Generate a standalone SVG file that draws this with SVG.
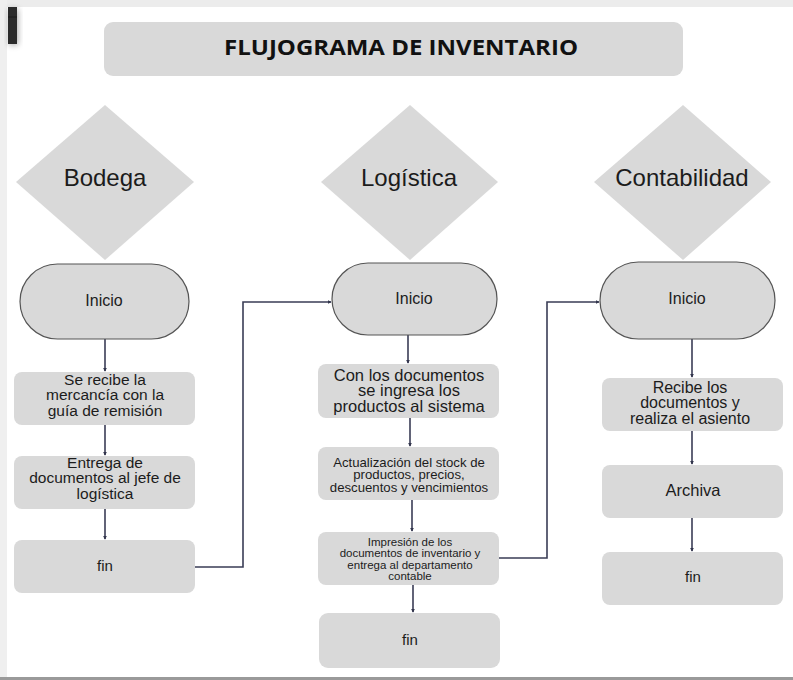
<svg xmlns="http://www.w3.org/2000/svg" width="793" height="680" viewBox="0 0 793 680">
<defs>
<marker id="arr" viewBox="0 0 6 6" refX="5" refY="3" markerWidth="4" markerHeight="4" orient="auto" markerUnits="userSpaceOnUse">
<path d="M0,0 L6,3 L0,6 z" fill="#33364d"/>
</marker>
<filter id="sh" x="-50%" y="-50%" width="200%" height="200%">
<feGaussianBlur stdDeviation="3"/>
</filter>
</defs>
<style>
.box{fill:#d9d9d9}
.term{fill:#d9d9d9;stroke:#555;stroke-width:1.2}
.dia{fill:#d9d9d9}
.t{font-family:"Liberation Sans",Arial,sans-serif;fill:#1c1c1c;text-anchor:middle}
.conn{fill:none;stroke:#3a3d56;stroke-width:1.6}
</style>
<rect x="0" y="0" width="793" height="680" fill="#ffffff"/>
<rect x="0" y="0" width="793" height="7" fill="#ececec"/>
<rect x="0" y="0" width="7" height="680" fill="#efefef"/>
<rect x="0" y="677" width="793" height="3" fill="#9a9a9a"/>
<rect x="9" y="9" width="9" height="36" fill="#000" opacity="0.35" filter="url(#sh)"/>
<rect x="8" y="7" width="9" height="37" fill="#2b2b2b"/>
<line x1="8" y1="17" x2="17" y2="17" stroke="#1a1a1a" stroke-width="1"/>

<g id="title">
<rect x="104" y="22" width="579" height="54" rx="9" fill="#d9d9d9"/>
<text x="401" y="55" font-family="'Open Sans','Noto Sans',sans-serif" font-weight="bold" font-size="22" fill="#111" text-anchor="middle" textLength="354" lengthAdjust="spacingAndGlyphs">FLUJOGRAMA DE INVENTARIO</text>
</g>

<g id="d-bodega">
<polygon class="dia" points="105,105 194,182 105,260 16,182"/>
<text class="t" x="105" y="186" font-size="24">Bodega</text>
</g>
<g id="d-logistica">
<polygon class="dia" points="410,105 498,182 410,260 321,182"/>
<text class="t" x="409" y="186" font-size="24">Logística</text>
</g>
<g id="d-contabilidad">
<polygon class="dia" points="683,105 771,182 683,260 594,182"/>
<text class="t" x="682" y="186" font-size="24">Contabilidad</text>
</g>

<g id="connectors">
<path class="conn" d="M105,339 V371" marker-end="url(#arr)"/>
<path class="conn" d="M105,425 V455" marker-end="url(#arr)"/>
<path class="conn" d="M105,509 V539" marker-end="url(#arr)"/>
<path class="conn" d="M195,567 H243 V302 H331" marker-end="url(#arr)"/>
<path class="conn" d="M408,335 V363" marker-end="url(#arr)"/>
<path class="conn" d="M410,418 V446" marker-end="url(#arr)"/>
<path class="conn" d="M412,500 V531" marker-end="url(#arr)"/>
<path class="conn" d="M413,585 V612" marker-end="url(#arr)"/>
<path class="conn" d="M499,558 H547 V302 H599" marker-end="url(#arr)"/>
<path class="conn" d="M692,339 V377" marker-end="url(#arr)"/>
<path class="conn" d="M692,431 V464" marker-end="url(#arr)"/>
<path class="conn" d="M692,518 V551" marker-end="url(#arr)"/>
</g>

<g id="b-inicio">
<rect class="term" x="20" y="264" width="169" height="75" rx="37.5"/>
<text class="t" x="104" y="306" font-size="16">Inicio</text>
</g>
<g id="b-recibe">
<rect class="box" x="14" y="372" width="181" height="53" rx="8"/>
<text class="t" font-size="15.5"><tspan x="105" y="384.5">Se recibe la</tspan><tspan x="105" y="400">mercancía con la</tspan><tspan x="105" y="415.5">guía de remisión</tspan></text>
</g>
<g id="b-entrega">
<rect class="box" x="14" y="456" width="181" height="53" rx="8"/>
<text class="t" font-size="15.5"><tspan x="105" y="467.5">Entrega de</tspan><tspan x="105" y="483">documentos al jefe de</tspan><tspan x="105" y="498.5">logística</tspan></text>
</g>
<g id="b-fin">
<rect class="box" x="14" y="540" width="181" height="53" rx="8"/>
<text class="t" x="105" y="571" font-size="15">fin</text>
</g>

<g id="l-inicio">
<rect class="term" x="332" y="263" width="165" height="72" rx="36"/>
<text class="t" x="414" y="304" font-size="16">Inicio</text>
</g>
<g id="l-ingresa">
<rect class="box" x="318" y="364" width="181" height="54" rx="8"/>
<text class="t" font-size="16.5"><tspan x="409" y="380.5">Con los documentos</tspan><tspan x="409" y="396">se ingresa los</tspan><tspan x="409" y="411.5">productos al sistema</tspan></text>
</g>
<g id="l-actualiza">
<rect class="box" x="318" y="447" width="181" height="53" rx="8"/>
<text class="t" font-size="13.2"><tspan x="409" y="466.5">Actualización del stock de</tspan><tspan x="409" y="479">productos, precios,</tspan><tspan x="409" y="491.5">descuentos y vencimientos</tspan></text>
</g>
<g id="l-impresion">
<rect class="box" x="318" y="532" width="181" height="53" rx="8"/>
<text class="t" font-size="11.5"><tspan x="410" y="545.5">Impresión de los</tspan><tspan x="410" y="557">documentos de inventario y</tspan><tspan x="410" y="568.5">entrega al departamento</tspan><tspan x="410" y="580">contable</tspan></text>
</g>
<g id="l-fin">
<rect class="box" x="319" y="613" width="181" height="55" rx="9"/>
<text class="t" x="410" y="645" font-size="15">fin</text>
</g>

<g id="c-inicio">
<rect class="term" x="600" y="262" width="175" height="77" rx="38.5"/>
<text class="t" x="687" y="304" font-size="16">Inicio</text>
</g>
<g id="c-recibe">
<rect class="box" x="602" y="378" width="181" height="53" rx="8"/>
<text class="t" font-size="16"><tspan x="690" y="392.5">Recibe los</tspan><tspan x="690" y="408">documentos y</tspan><tspan x="690" y="423.5">realiza el asiento</tspan></text>
</g>
<g id="c-archiva">
<rect class="box" x="602" y="465" width="181" height="53" rx="8"/>
<text class="t" x="693" y="496" font-size="16.5">Archiva</text>
</g>
<g id="c-fin">
<rect class="box" x="602" y="552" width="181" height="53" rx="8"/>
<text class="t" x="693" y="582" font-size="15">fin</text>
</g>
</svg>
